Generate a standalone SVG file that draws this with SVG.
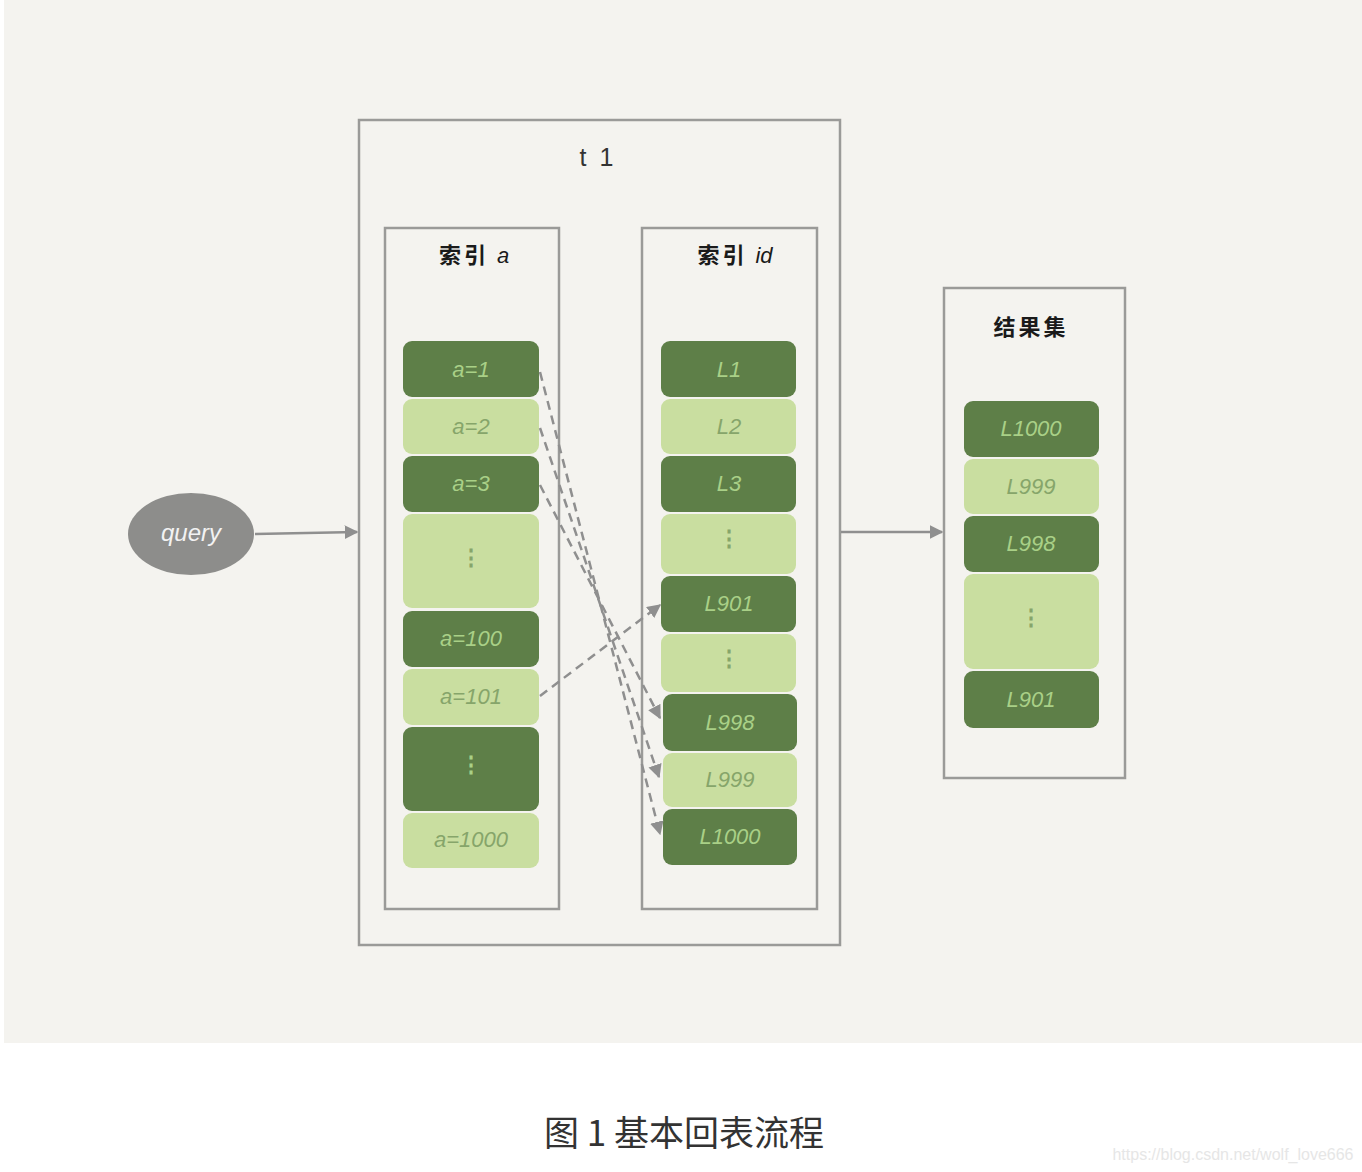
<svg xmlns="http://www.w3.org/2000/svg" width="1362" height="1172" viewBox="0 0 1362 1172">
<defs>
<style>
.frame{fill:none;stroke:#9a9a98;stroke-width:2.5}
.dk{fill:#5e7f48}
.lt{fill:#c9dea0}
.tdk{font-family:"Liberation Sans","Noto Sans CJK SC",sans-serif;font-size:22px;fill:#a9d087;text-anchor:middle;font-style:italic}
.tlt{font-family:"Liberation Sans","Noto Sans CJK SC",sans-serif;font-size:22px;fill:#86a56a;text-anchor:middle;font-style:italic}
.dots{font-style:normal;font-weight:bold}
.hd{font-family:"Noto Sans CJK SC",sans-serif;font-size:22px;fill:#1a1a1a;text-anchor:middle;font-weight:bold;letter-spacing:3px}
.dash{fill:none;stroke:#8f8f8f;stroke-width:2.5;stroke-dasharray:9 6}
.solid{fill:none;stroke:#8f8f8f;stroke-width:2.5}
</style>
<marker id="ah" viewBox="0 0 10 10" refX="9" refY="5" markerWidth="5.5" markerHeight="5.5" orient="auto" markerUnits="strokeWidth">
<path d="M0,0 L10,5 L0,10 z" fill="#8f8f8f"/>
</marker>
</defs>
<rect x="0" y="0" width="1362" height="1172" fill="#ffffff"/>
<rect x="4" y="0" width="1358" height="1043" fill="#f4f3ef"/>

<g id="t1">
<rect class="frame" x="359" y="120" width="481" height="825"/>
<text x="598" y="166" font-family="Liberation Sans, sans-serif" font-size="25" fill="#333" text-anchor="middle" letter-spacing="3">t 1</text>
</g>

<g id="index-a">
<rect class="frame" x="385" y="228" width="174" height="681"/>
<text class="hd" x="474" y="263">索引 <tspan font-family="Liberation Sans, sans-serif" font-weight="normal" font-style="italic" letter-spacing="0">a</tspan></text>
<rect class="dk" x="403" y="341" width="136" height="56" rx="9"/><text class="tdk" x="471" y="377">a=1</text>
<rect class="lt" x="403" y="399" width="136" height="55" rx="9"/><text class="tlt" x="471" y="434">a=2</text>
<rect class="dk" x="403" y="456" width="136" height="56" rx="9"/><text class="tdk" x="471" y="491">a=3</text>
<rect class="lt" x="403" y="514" width="136" height="94" rx="9"/><text class="tlt dots" x="471" y="565">⋮</text>
<rect class="dk" x="403" y="611" width="136" height="56" rx="9"/><text class="tdk" x="471" y="646">a=100</text>
<rect class="lt" x="403" y="669" width="136" height="56" rx="9"/><text class="tlt" x="471" y="704">a=101</text>
<rect class="dk" x="403" y="727" width="136" height="84" rx="9"/><text class="tdk dots" x="471" y="772">⋮</text>
<rect class="lt" x="403" y="813" width="136" height="55" rx="9"/><text class="tlt" x="471" y="847">a=1000</text>
</g>

<g id="index-id">
<rect class="frame" x="642" y="228" width="175" height="681"/>
<text class="hd" x="735" y="263">索引 <tspan font-family="Liberation Sans, sans-serif" font-weight="normal" font-style="italic" letter-spacing="0">id</tspan></text>
<rect class="dk" x="661" y="341" width="135" height="56" rx="9"/><text class="tdk" x="729" y="377">L1</text>
<rect class="lt" x="661" y="399" width="135" height="55" rx="9"/><text class="tlt" x="729" y="434">L2</text>
<rect class="dk" x="661" y="456" width="135" height="56" rx="9"/><text class="tdk" x="729" y="491">L3</text>
<rect class="lt" x="661" y="514" width="135" height="60" rx="9"/><text class="tlt dots" x="729" y="546">⋮</text>
<rect class="dk" x="661" y="576" width="135" height="56" rx="9"/><text class="tdk" x="729" y="611">L901</text>
<rect class="lt" x="661" y="634" width="135" height="58" rx="9"/><text class="tlt dots" x="729" y="666">⋮</text>
<rect class="dk" x="663" y="694" width="134" height="57" rx="9"/><text class="tdk" x="730" y="730">L998</text>
<rect class="lt" x="663" y="753" width="134" height="54" rx="9"/><text class="tlt" x="730" y="787">L999</text>
<rect class="dk" x="663" y="809" width="134" height="56" rx="9"/><text class="tdk" x="730" y="844">L1000</text>
</g>

<g id="result">
<rect class="frame" x="944" y="288" width="181" height="490"/>
<text class="hd" x="1031" y="335">结果集</text>
<rect class="dk" x="964" y="401" width="135" height="56" rx="9"/><text class="tdk" x="1031" y="436">L1000</text>
<rect class="lt" x="964" y="459" width="135" height="55" rx="9"/><text class="tlt" x="1031" y="494">L999</text>
<rect class="dk" x="964" y="516" width="135" height="56" rx="9"/><text class="tdk" x="1031" y="551">L998</text>
<rect class="lt" x="964" y="574" width="135" height="95" rx="9"/><text class="tlt dots" x="1031" y="625">⋮</text>
<rect class="dk" x="964" y="671" width="135" height="57" rx="9"/><text class="tdk" x="1031" y="707">L901</text>
</g>

<g id="query">
<ellipse cx="191" cy="534" rx="63" ry="41" fill="#8d8d8b"/>
<text x="191" y="541" font-family="Liberation Sans, sans-serif" font-size="24" fill="#f2f2f2" text-anchor="middle" font-style="italic">query</text>
</g>

<g id="connectors">
<path class="solid" d="M255,534 L357,532" marker-end="url(#ah)"/>
<path class="solid" d="M841,532 L942,532" marker-end="url(#ah)"/>
<path class="dash" d="M540,372 L660,834" marker-end="url(#ah)"/>
<path class="dash" d="M540,428 L659,777" marker-end="url(#ah)"/>
<path class="dash" d="M540,485 L660,718" marker-end="url(#ah)"/>
<path class="dash" d="M540,696 L660,605" marker-end="url(#ah)"/>
</g>

<text x="684" y="1146" font-family="Noto Sans CJK SC, sans-serif" font-size="35" fill="#333" text-anchor="middle">图 1 基本回表流程</text>
<text x="1233" y="1160" font-family="Liberation Sans, sans-serif" font-size="16" fill="#e6e6e6" text-anchor="middle">https://blog.csdn.net/wolf_love666</text>
</svg>
